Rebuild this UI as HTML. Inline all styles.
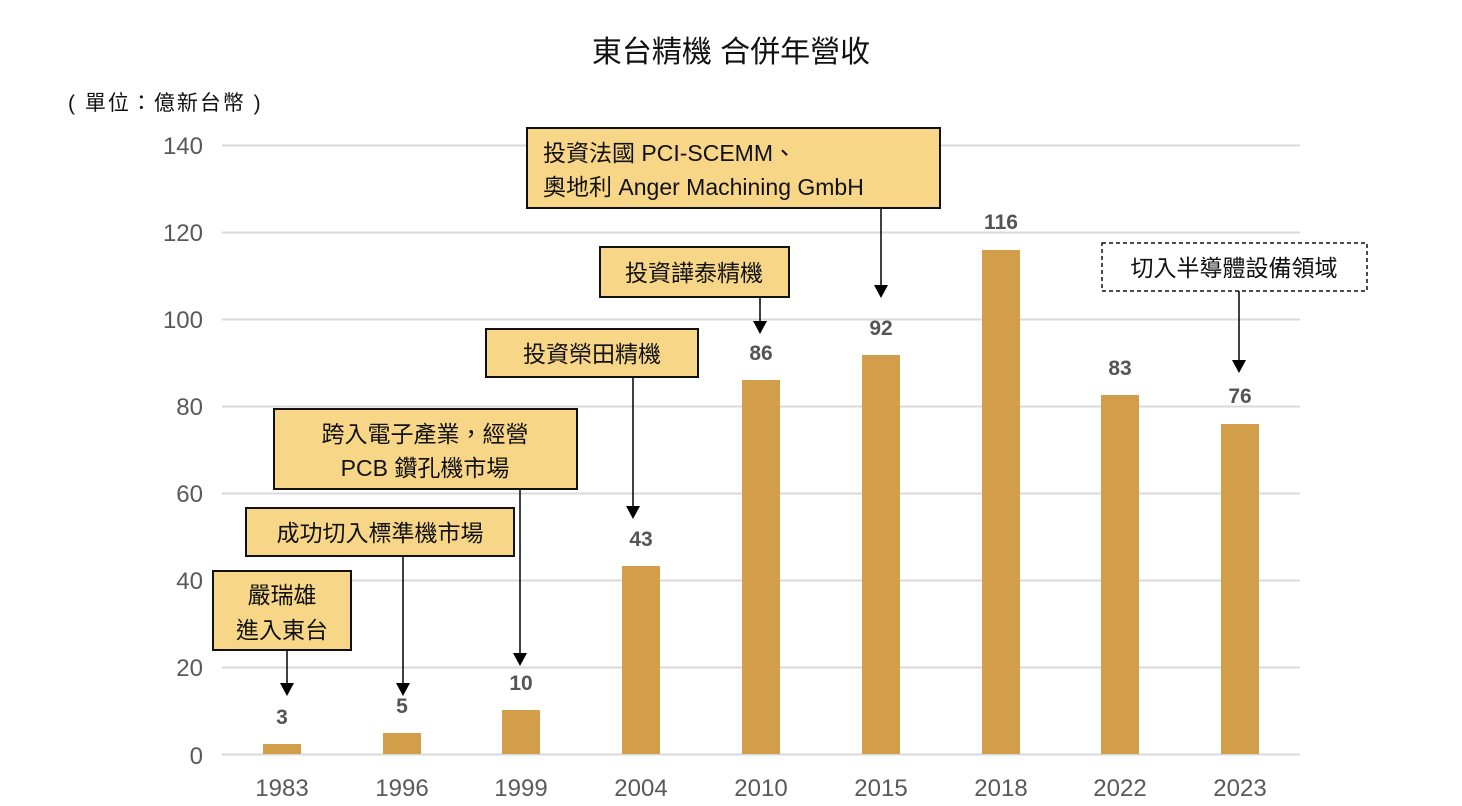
<!DOCTYPE html>
<html><head><meta charset="utf-8"><style>
html,body{margin:0;padding:0;background:#fff;}
svg{display:block;font-family:"Liberation Sans","Noto Sans CJK TC",sans-serif;}
</style></head><body>
<svg width="1462" height="806" viewBox="0 0 1462 806" xmlns="http://www.w3.org/2000/svg">
<text x="731" y="62" font-size="30" text-anchor="middle" fill="#111">東台精機 合併年營收</text>
<text x="68" y="110" font-size="21" fill="#111" letter-spacing="2">( 單位：億新台幣 )</text>
<g stroke="#d9d9d9" stroke-width="2">
<line x1="222" x2="1300" y1="145.5" y2="145.5"/><line x1="222" x2="1300" y1="232.5" y2="232.5"/>
<line x1="222" x2="1300" y1="319.5" y2="319.5"/><line x1="222" x2="1300" y1="406.5" y2="406.5"/>
<line x1="222" x2="1300" y1="493.5" y2="493.5"/><line x1="222" x2="1300" y1="580.5" y2="580.5"/>
<line x1="222" x2="1300" y1="667.5" y2="667.5"/><line x1="222" x2="1300" y1="754.5" y2="754.5"/>
</g>
<g font-size="24" fill="#595959" text-anchor="end">
<text x="203" y="154">140</text><text x="203" y="241">120</text><text x="203" y="328">100</text>
<text x="203" y="415">80</text><text x="203" y="502">60</text><text x="203" y="589">40</text>
<text x="203" y="676">20</text><text x="203" y="764">0</text>
</g>
<g fill="#D39E4A">
<rect x="263" y="744" width="38" height="10"/>
<rect x="383" y="733" width="38" height="21"/>
<rect x="502" y="710" width="38" height="44"/>
<rect x="622" y="566" width="38" height="188"/>
<rect x="742" y="380" width="38" height="374"/>
<rect x="862" y="355" width="38" height="399"/>
<rect x="982" y="250" width="38" height="504"/>
<rect x="1101" y="395" width="38" height="359"/>
<rect x="1221" y="424" width="38" height="330"/>
</g>
<g font-size="21" font-weight="bold" fill="#555" text-anchor="middle">
<text x="282" y="724">3</text><text x="402" y="713">5</text><text x="521" y="690">10</text>
<text x="641" y="546">43</text><text x="761" y="360">86</text><text x="881" y="335">92</text>
<text x="1001" y="229">116</text><text x="1120" y="375">83</text><text x="1240" y="403">76</text>
</g>
<g font-size="24" fill="#595959" text-anchor="middle">
<text x="282" y="796">1983</text><text x="402" y="796">1996</text><text x="521" y="796">1999</text>
<text x="641" y="796">2004</text><text x="761" y="796">2010</text><text x="881" y="796">2015</text>
<text x="1001" y="796">2018</text><text x="1120" y="796">2022</text><text x="1240" y="796">2023</text>
</g>
<g stroke="#000" stroke-width="1.5">
<line x1="287" y1="650" x2="287" y2="684"/>
<line x1="403" y1="556" x2="403" y2="684"/>
<line x1="520" y1="489" x2="520" y2="654"/>
<line x1="633" y1="377" x2="633" y2="507"/>
<line x1="760" y1="297" x2="760" y2="322"/>
<line x1="881" y1="208" x2="881" y2="286"/>
<line x1="1239" y1="291" x2="1239" y2="361"/>
</g>
<g fill="#000">
<path d="M280,683 h14 l-7,13 z"/>
<path d="M396,683 h14 l-7,13 z"/>
<path d="M513,653 h14 l-7,13 z"/>
<path d="M626,506 h14 l-7,13 z"/>
<path d="M753,321 h14 l-7,13 z"/>
<path d="M874,285 h14 l-7,13 z"/>
<path d="M1232,360 h14 l-7,13 z"/>
</g>
<g fill="#F8D687" stroke="#111" stroke-width="2">
<rect x="213" y="571" width="138" height="79"/>
<rect x="246" y="508" width="268" height="48"/>
<rect x="274" y="409" width="303" height="80"/>
<rect x="486" y="329" width="212" height="48"/>
<rect x="600" y="247" width="189" height="50"/>
<rect x="527" y="128" width="413" height="80"/>
</g>
<rect x="1102" y="243" width="265" height="48" fill="#fff" stroke="#111" stroke-width="1.5" stroke-dasharray="4,3"/>
<g font-size="23" fill="#111" text-anchor="middle">
<text x="282" y="603">嚴瑞雄</text><text x="282" y="638">進入東台</text>
<text x="380" y="541">成功切入標準機市場</text>
<text x="425" y="442">跨入電子產業，經營</text><text x="425" y="476">PCB 鑽孔機市場</text>
<text x="592" y="362">投資榮田精機</text>
<text x="694" y="281">投資譁泰精機</text>
<text x="1234" y="276">切入半導體設備領域</text>
</g>
<g font-size="23" fill="#111">
<text x="543" y="161">投資法國 PCI-SCEMM、</text>
<text x="543" y="195">奧地利 Anger Machining GmbH</text>
</g>
</svg>
</body></html>
